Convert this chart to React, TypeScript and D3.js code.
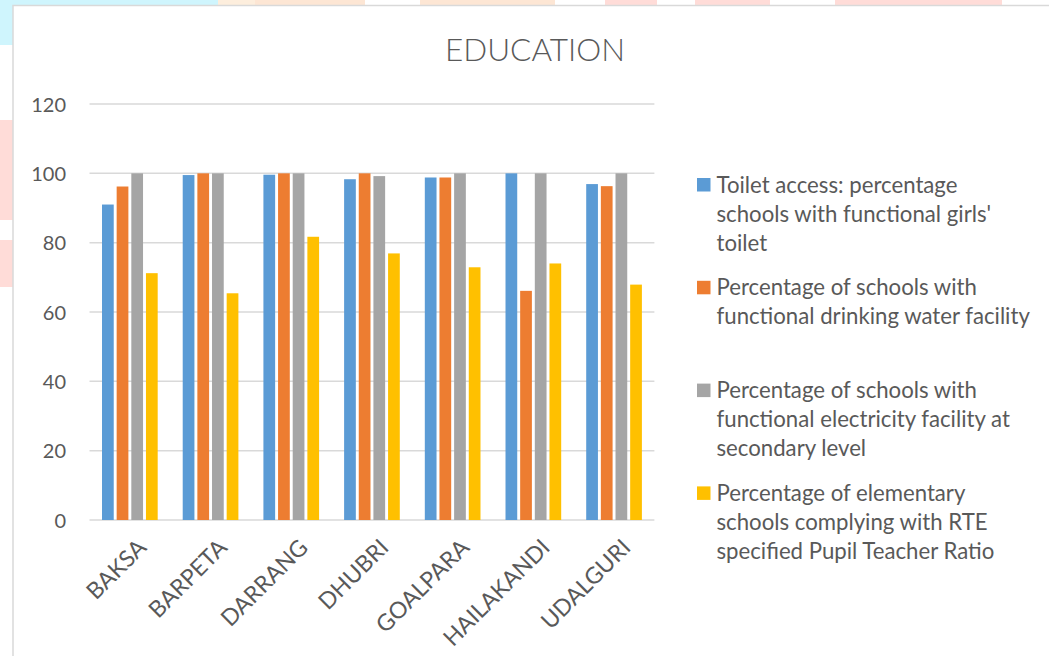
import React from "react";
import * as d3 from "d3";

const categories = ["BAKSA", "BARPETA", "DARRANG", "DHUBRI", "GOALPARA", "HAILAKANDI", "UDALGURI"];
const seriesNames = [
  "Toilet access: percentage schools with functional girls' toilet",
  "Percentage of schools with functional drinking water facility",
  "Percentage of schools with functional electricity facility at secondary level",
  "Percentage of elementary schools complying with RTE specified Pupil Teacher Ratio",
];
const legendLines = [
  ["Toilet access: percentage", "schools with functional girls'", "toilet"],
  ["Percentage of schools with", "functional drinking water facility"],
  ["Percentage of schools with", "functional electricity facility at", "secondary level"],
  ["Percentage of elementary", "schools complying with RTE", "specified Pupil Teacher Ratio"],
];
const toiletAccess = [91, 99.5, 99.6, 98.3, 98.8, 100, 96.9];
const drinkingWater = [96.2, 100, 100, 100, 98.8, 66.1, 96.3];
const electricity = [100, 100, 100, 99.2, 100, 100, 100];
const pupilTeacher = [71.2, 65.4, 81.7, 76.9, 72.9, 74.0, 67.9];
const yTicks = [0, 20, 40, 60, 80, 100, 120];
const colors = ["#5B9BD5", "#ED7D31", "#A5A5A5", "#FFC000"];

const W = 1049;
const H = 656;
const FONT = "Lato, 'Open Sans', sans-serif";
const TEXT = "#595959";

export default function App() {
  const series = [toiletAccess, drinkingWater, electricity, pupilTeacher];
  const x = d3.scaleBand<string>().domain(categories).range([89.5, 654.4]).paddingInner(0.31).paddingOuter(0.155);
  const xs = d3.scaleBand<number>().domain(d3.range(series.length)).range([0, x.bandwidth()]).paddingInner(0.2);
  const y = d3.scaleLinear().domain([0, 120]).range([520, 104]);

  const bgRects = [
    { x: 0, y: 0, w: 218, h: 6, c: "#cff5fd" },
    { x: 0, y: 0, w: 13, h: 45, c: "#cff5fd" },
    { x: 218, y: 0, w: 40, h: 6, c: "#fdeedd" },
    { x: 255, y: 0, w: 110, h: 6, c: "#fde6d4" },
    { x: 420, y: 0, w: 135, h: 6, c: "#fde6d4" },
    { x: 605, y: 0, w: 52, h: 6, c: "#ffdcd8" },
    { x: 695, y: 0, w: 75, h: 6, c: "#ffdcd8" },
    { x: 835, y: 0, w: 167, h: 6, c: "#ffdcd8" },
    { x: 0, y: 120, w: 13, h: 100, c: "#ffdcd8" },
    { x: 0, y: 240, w: 13, h: 47, c: "#ffdcd8" },
  ];

  return (
    <svg width={W} height={H} style={{ position: "absolute", left: 0, top: 0, background: "#fff" }} fontFamily={FONT}>
      {bgRects.map((r, i) => (
        <rect key={i} x={r.x} y={r.y} width={r.w} height={r.h} fill={r.c} />
      ))}
      <rect x={13} y={5.5} width={W + 10} height={H + 10} fill="#fff" stroke="#d9d9d9" strokeWidth={1.5} />
      <text x={535} y={61} textAnchor="middle" fontSize={31.5} fontWeight={300} fill={TEXT}>
        EDUCATION
      </text>
      {yTicks.map((t) => (
        <g key={t}>
          <line x1={89.5} x2={654.4} y1={y(t)} y2={y(t)} stroke="#d9d9d9" strokeWidth={1.5} />
          <text x={66} y={y(t) + 7.5} textAnchor="end" fontSize={20} fill={TEXT}>
            {t}
          </text>
        </g>
      ))}
      {categories.map((c, ci) => (
        <g key={c}>
          {series.map((s, si) => (
            <rect
              key={si}
              x={(x(c) as number) + (xs(si) as number)}
              y={y(s[ci])}
              width={xs.bandwidth()}
              height={y(0) - y(s[ci])}
              fill={colors[si]}
            />
          ))}
          <text
            transform={`translate(${(x(c) as number) + x.bandwidth() / 2 + 5},${536}) rotate(-45)`}
            textAnchor="end"
            dominantBaseline="hanging"
            fontSize={23}
            fill={TEXT}
          >
            {c}
          </text>
        </g>
      ))}
      {seriesNames.map((n, i) => {
        const cy = 185 + i * 102.8;
        return (
          <g key={n}>
            <rect x={697} y={cy - 7} width={13.5} height={13.5} fill={colors[i]} />
            <text fontSize={22.2} fill={TEXT}>
              {legendLines[i].map((ln, li) => (
                <tspan key={li} x={716.5} y={cy + 7.5 + li * 29}>
                  {ln}
                </tspan>
              ))}
            </text>
          </g>
        );
      })}
    </svg>
  );
}
